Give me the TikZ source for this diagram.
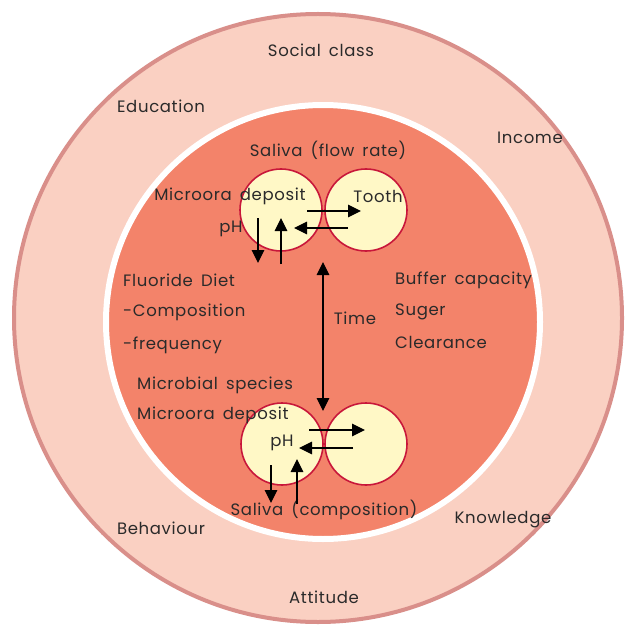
\documentclass[tikz,border=0pt]{standalone}
\usepackage{fontspec}
\setmainfont{Poppins}[LetterSpace=4, WordSpace=1.6]
\usepackage{tikz}
\usetikzlibrary{arrows.meta}

\definecolor{ringfill}{HTML}{FAD0C2}
\definecolor{ringedge}{HTML}{D98F8A}
\definecolor{corefill}{HTML}{F3836A}
\definecolor{cellfill}{HTML}{FFF8C6}
\definecolor{celledge}{HTML}{C8173A}
\definecolor{inktext}{HTML}{2A2A2A}

\begin{document}
\begin{tikzpicture}[
    x=1pt, y=-1pt,
    >={Triangle[length=13pt,width=12.5pt]},   % arrow tip style
    label/.style={text=inktext, font=\fontsize{16.5}{18}\selectfont, inner sep=0pt},
    leftlabel/.style={label, anchor=west},
    cell/.style={circle, draw=celledge, line width=1.6pt, fill=cellfill, minimum size=82pt, inner sep=0pt},
    flow/.style={->, line width=1.2pt, black}]
    \useasboundingbox (0,0) rectangle (624,628);

    % Rings
    \fill[ringfill, draw=ringedge, line width=4pt] (318,318) circle (304);
    \fill[corefill, draw=white, line width=6pt] (323,322) circle (217);

    % Cells
    \node[cell] (flora1) at (281,210) {};
    \node[cell] (tooth1) at (366,210) {};
    \node[cell] (flora2) at (282,444) {};
    \node[cell] (tooth2) at (366,444) {};

    % Outer labels
    \node[label] (social) at (321,50) {Social class};
    \node[label] (educ) at (161,106) {Education};
    \node[label] (income) at (530,138) {Income};
    \node[label] (behav) at (161,528) {Behaviour};
    \node[label] (know) at (503,520) {Knowledge};
    \node[label] (attit) at (324,597) {Attitude};

    % Inner labels
    \node[label] (flowrate) at (328,150) {Saliva (flow rate)};
    \node[label] (deposit1) at (230,196) {Microora deposit};
    \node[label] (toothtxt) at (378,196) {Tooth};
    \node[label] (ph1) at (231,229) {pH};
    \node[leftlabel] (fluor) at (123,280) {Fluoride Diet};
    \node[leftlabel] (compo) at (123,312) {-Composition};
    \node[leftlabel] (freq) at (123,345) {-frequency};
    \node[label] (time) at (355,318) {Time};
    \node[leftlabel] (buffer) at (395,280) {Buffer capacity};
    \node[leftlabel] (suger) at (395,312) {Suger};
    \node[leftlabel] (clear) at (395,342) {Clearance};
    \node[leftlabel] (species) at (137,385) {Microbial species};
    \node[leftlabel] (deposit2) at (137,415) {Microora deposit};
    \node[label] (ph2) at (282,443) {pH};
    \node[label] (compsal) at (324,510) {Saliva (composition)};

    % Arrow ends
    \coordinate (r1a) at (307,211); \coordinate (r1b) at (361,211);
    \coordinate (l1a) at (348,228); \coordinate (l1b) at (294,228);
    \coordinate (d1a) at (258,218); \coordinate (d1b) at (258,263);
    \coordinate (u1a) at (281,264); \coordinate (u1b) at (281,218);
    \coordinate (t1) at (323,262); \coordinate (t2) at (323,411);
    \coordinate (r2a) at (309,430); \coordinate (r2b) at (365,430);
    \coordinate (l2a) at (353,448); \coordinate (l2b) at (299,448);
    \coordinate (d2a) at (271,465); \coordinate (d2b) at (271,503);
    \coordinate (u2a) at (297,504); \coordinate (u2b) at (297,459);

    % Exchange arrows
    \draw[flow] (r1a) -- (r1b);
    \draw[flow] (l1a) -- (l1b);
    \draw[flow] (d1a) -- (d1b);
    \draw[flow] (u1a) -- (u1b);
    \draw[flow, <->] (t1) -- (t2);
    \draw[flow] (r2a) -- (r2b);
    \draw[flow] (l2a) -- (l2b);
    \draw[flow] (d2a) -- (d2b);
    \draw[flow] (u2a) -- (u2b);
\end{tikzpicture}
\end{document}
